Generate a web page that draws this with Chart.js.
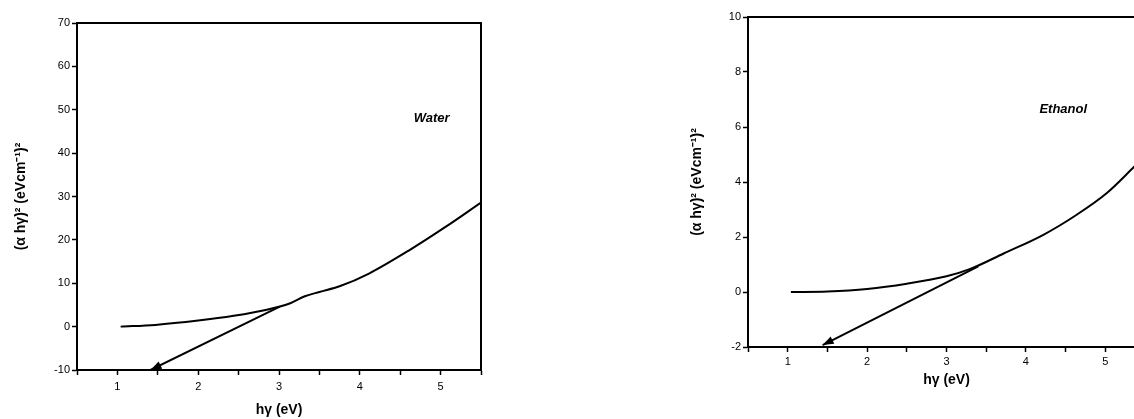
<!DOCTYPE html>
<html>
<head>
<meta charset="utf-8">
<script src="https://cdn.jsdelivr.net/npm/chart.js@4.4.1/dist/chart.umd.min.js"></script>
<style>
  html, body { margin: 0; padding: 0; background: #fff; width: 1134px; height: 419px; overflow: hidden; }
  .box { position: absolute; top: 0; }
</style>
</head>
<body>
<div class="box" style="left:0px"><canvas id="waterChart" width="486" height="419"></canvas></div>
<div class="box" style="left:680px"><canvas id="ethanolChart" width="470" height="419"></canvas></div>
<script>
// water
var waterX = [1.04, 1.47, 2.0, 2.44, 2.85, 3.14, 3.32, 3.5, 3.75, 4.12, 4.62, 5.07, 5.5];
var waterY = [0, 0.4, 1.4, 2.5, 3.9, 5.4, 7.0, 8.0, 9.3, 12.3, 17.7, 23.1, 28.6];
var waterTanX = [3.01, 1.41];
var waterTanY = [4.6, -10];

// ethanol
var ethX = [1.04, 1.5, 2.0, 2.5, 3.0, 3.3, 3.72, 4.22, 4.64, 5.02, 5.37];
var ethY = [0, 0.02, 0.11, 0.3, 0.57, 0.84, 1.4, 2.08, 2.81, 3.6, 4.57];
var ethTanX = [3.4, 1.44];
var ethTanY = [0.93, -1.93];

var xTicks = [1, 2, 3, 4, 5];
var xTitle = 'hγ (eV)';
var yTitle = '(α hγ)² (eVcm⁻¹)²';

function pts(xs, ys) {
  return xs.map(function (x, i) { return {x: x, y: ys[i]}; });
}

// frame, arrowhead and the inset label
var extras = {
  id: 'extras',
  afterDatasetsDraw: function (chart, args, opts) {
    var ctx = chart.ctx, a = chart.chartArea;
    ctx.save();
    ctx.strokeStyle = '#000';
    ctx.lineWidth = 2;
    ctx.strokeRect(a.left, a.top, a.right - a.left, a.bottom - a.top);

    var pts = chart.getDatasetMeta(1).data;
    var p1 = pts[pts.length - 2], p2 = pts[pts.length - 1];
    var ang = Math.atan2(p2.y - p1.y, p2.x - p1.x);
    ctx.translate(p2.x, p2.y);
    ctx.rotate(ang);
    ctx.fillStyle = '#000';
    ctx.beginPath();
    ctx.moveTo(0, 0);
    ctx.lineTo(-11, -4);
    ctx.lineTo(-11, 4);
    ctx.closePath();
    ctx.fill();
    ctx.restore();

    ctx.save();
    ctx.font = 'italic bold 13px "Liberation Sans", Arial, sans-serif';
    ctx.fillStyle = '#000';
    ctx.textAlign = 'center';
    ctx.textBaseline = 'middle';
    ctx.fillText(opts.text, chart.scales.x.getPixelForValue(opts.x), chart.scales.y.getPixelForValue(opts.y));
    ctx.restore();
  }
};

function makeChart(id, curve, tangent, cfg) {
  return new Chart(document.getElementById(id).getContext('2d'), {
    type: 'scatter',
    data: {
      datasets: [
        { data: curve, showLine: true, borderColor: '#000', borderWidth: 2, pointRadius: 0, cubicInterpolationMode: 'monotone' },
        { data: tangent, showLine: true, borderColor: '#000', borderWidth: 2, pointRadius: 0 }
      ]
    },
    plugins: [extras],
    options: {
      responsive: false,
      animation: false,
      layout: { padding: cfg.pad },
      plugins: {
        legend: { display: false },
        tooltip: { enabled: false },
        extras: cfg.label
      },
      scales: {
        x: {
          type: 'linear', min: 0.5, max: 5.5,
          afterFit: function (s) { s.height = cfg.xh; },
          afterBuildTicks: function (s) {
            var t = [];
            for (var v = 0.5; v <= 5.5001; v += 0.5) t.push({value: Math.round(v * 10) / 10});
            s.ticks = t;
          },
          border: { display: true, color: '#000', width: 2 },
          grid: { drawOnChartArea: false, color: '#000', tickLength: 5, tickWidth: 1.5 },
          ticks: {
            color: '#000', padding: cfg.xpad, maxRotation: 0, autoSkip: false,
            font: { family: '"Liberation Sans", Arial, sans-serif', size: 11 },
            callback: function (v) { return xTicks.indexOf(v) >= 0 ? String(v) : ''; }
          },
          title: {
            display: true, text: xTitle, color: '#000',
            font: { family: '"Liberation Sans", Arial, sans-serif', size: 14, weight: 'bold' },
            padding: { top: 0, bottom: cfg.xtPad }
          }
        },
        y: {
          min: cfg.ymin, max: cfg.ymax,
          afterFit: function (s) { s.width = cfg.yw; },
          border: { display: true, color: '#000', width: 2 },
          grid: { drawOnChartArea: false, color: '#000', tickLength: 5, tickWidth: 1.5 },
          ticks: {
            color: '#000', padding: 2, stepSize: cfg.ystep,
            font: { family: '"Liberation Sans", Arial, sans-serif', size: 11 }
          },
          title: {
            display: true, text: yTitle, color: '#000',
            font: { family: '"Liberation Sans", Arial, sans-serif', size: 14, weight: 'bold' },
            padding: { top: cfg.ytPad, bottom: 0 }
          }
        }
      }
    }
  });
}

makeChart('waterChart', pts(waterX, waterY), pts(waterTanX, waterTanY), {
  pad: { top: 23, right: 4, left: 0, bottom: 0 },
  xh: 49, yw: 77, xpad: 5, xtPad: 0, ytPad: 13,
  ymin: -10, ymax: 70, ystep: 10,
  label: { text: 'Water', x: 4.89, y: 48 }
});

makeChart('ethanolChart', pts(ethX, ethY), pts(ethTanX, ethTanY), {
  pad: { top: 17, right: 5, left: 0, bottom: 0 },
  xh: 72, yw: 68, xpad: 3, xtPad: 30, ytPad: 9,
  ymin: -2, ymax: 10, ystep: 2,
  label: { text: 'Ethanol', x: 4.47, y: 6.63 }
});
</script>
</body>
</html>
